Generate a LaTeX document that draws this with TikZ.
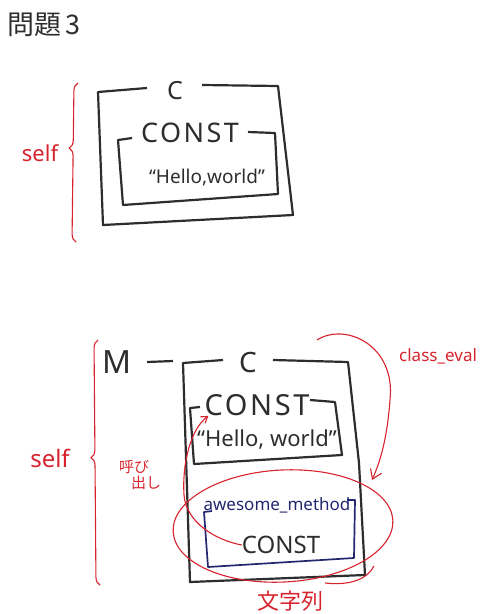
\documentclass[tikz,border=0pt]{standalone}
\usepackage{fontspec}
\setmainfont{Noto Sans}
\newfontfamily\jpfont{Noto Sans CJK JP}
\usepackage{xcolor}
\usepackage{tikz}
\usetikzlibrary{arrows.meta, decorations.pathreplacing, shapes.geometric}

\definecolor{ink}{RGB}{45,45,45}
\definecolor{pen}{RGB}{215,35,45}
\definecolor{navy}{RGB}{35,40,110}

\tikzset{
  box/.style={draw=ink, line width=2.2pt, line join=round},
  memo/.style={draw=pen, line width=1.1pt},
  hand/.style={text=ink, inner sep=0pt, font=\fontsize{#1}{#1}\selectfont},
  wide/.style={text=ink, inner sep=0pt, font=\fontsize{#1}{#1}\selectfont\addfontfeature{LetterSpace=9}},
  note/.style={text=pen, inner sep=0pt, font=\fontsize{#1}{#1}\selectfont},
  jnote/.style={text=pen, inner sep=0pt, font=\jpfont\fontsize{#1}{#1}\selectfont},
  curly/.style={memo, decorate, decoration={brace, amplitude=8pt, aspect=#1}}
}

\begin{document}
\begin{tikzpicture}[x=1pt, y=-1pt]
\useasboundingbox (0,0) rectangle (485,614);

% Titulo
\node[anchor=west, text=ink, inner sep=0pt, font=\jpfont\fontsize{27}{27}\selectfont] (title) at (7,25) {問題\,3};

% ---- Primeiro desenho ----
\node[hand=25] (c1) at (175,91) {C};
\node[wide=27] (const1) at (190,133) {CONST};
\node[hand=19] (hello1) at (207,178) {“Hello,world”};

% Caixa C
\draw[box] (147,88) -- (98,92) -- (103,225) -- (293,215) -- (278,86) -- (202,85);
% Caixa CONST
\draw[box] (132,138) -- (118,140) -- (123,205) -- (278,194) -- (275,133) -- (248,132);

% Chave self
\draw[curly=0.59] (76,242) -- (78,83);
\node[note=22] (self1) at (40,153) {self};

% ---- Segundo desenho ----
\node[hand=32] (m) at (117,362) {M};
\node[hand=28] (c2) at (248,362) {C};
\node[wide=29] (const2) at (257,405) {CONST};
\node[hand=22] (hello2) at (267,440) {“Hello, world”};
\node[text=navy, inner sep=0pt, font=\fontsize{17}{17}\selectfont] (awesome) at (277,505) {awesome\_method};
\node[hand=24] (const3) at (281,545) {CONST};

% Ligacao M -- C
\coordinate (mtail) at (147,362);
\coordinate (mhead) at (173,361);
\draw[box] (mtail) -- (mhead);

% Caixa C
\draw[box] (223,360) -- (183,363) -- (190,582) -- (365,575) -- (359,463) -- (348,362) -- (273,360);
% Caixa CONST
\draw[box] (200,407) -- (190,408) -- (194,464) -- (342,455) -- (335,402) -- (310,400);
% Caixa awesome_method
\draw[box, draw=navy, line width=1.7pt] (212,511) -- (204,512) -- (208,567) -- (354,558) -- (355,500) -- (347,500);

% Chave self
\draw[curly=0.52] (100,585) -- (98,340);
\node[note=24] (self2) at (50,458) {self};

% Elipse do metodo
\node[memo, ellipse, minimum width=220pt, minimum height=112pt, inner sep=0pt, rotate=3] (strloop) at (283,526) {};
\coordinate (tailA) at (325,583);
\coordinate (tailB) at (374,566);
\draw[memo] (tailA) .. controls (352,586) and (368,578) .. (tailB);
\node[jnote=22] (moji) at (290,601) {文字列};

% class_eval
\coordinate (evalstart) at (317,340);
\coordinate (evalend) at (372,480);
\draw[memo, -{Straight Barb[length=9pt, width=12pt]}] (evalstart) .. controls (345,322) and (396,345) .. (390,400) .. controls (387,440) and (380,462) .. (evalend);
\node[note=17, anchor=west] (ceval) at (399,356) {class\_eval};

% Chamada
\draw[memo, -{Straight Barb[length=6pt, width=8pt]}] (const3.west) .. controls (215,540) and (186,522) .. (184,495) .. controls (182,460) and (192,428) .. ([xshift=4pt]const2.south west);
\node[jnote=15, align=left] (yobi) at (140,475) {呼び\\[1pt]\hspace{12pt}出し};

\end{tikzpicture}
\end{document}
